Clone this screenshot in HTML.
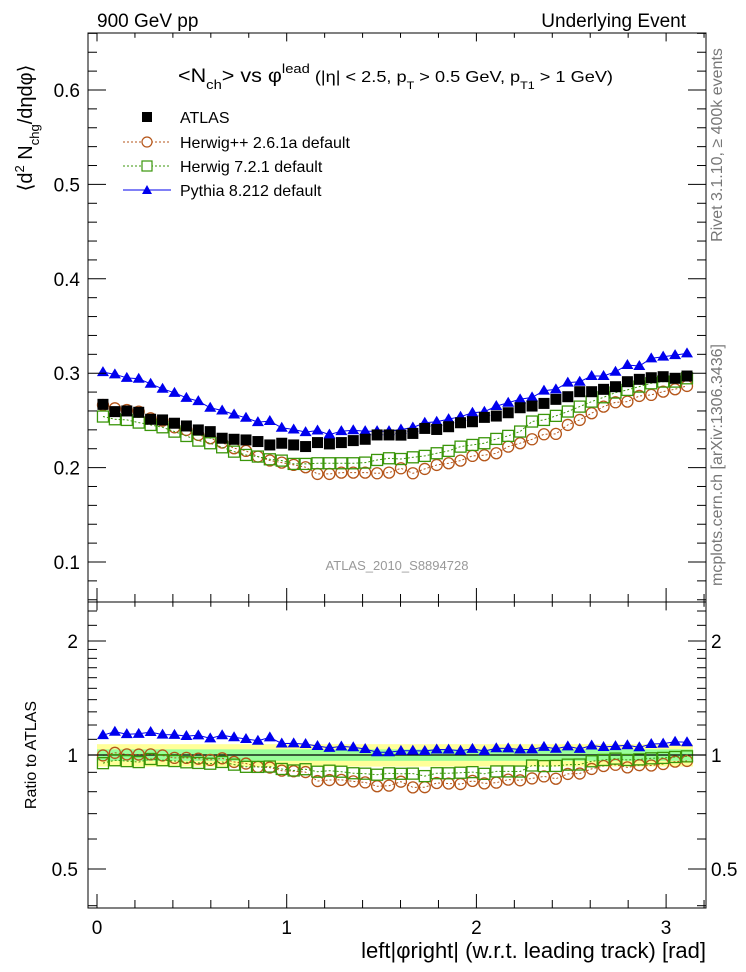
<!DOCTYPE html>
<html><head><meta charset="utf-8">
<style>
html,body{margin:0;padding:0;background:#fff;}
svg{display:block;font-family:"Liberation Sans",sans-serif;}
</style></head>
<body>
<svg id="chart" width="746" height="972" viewBox="0 0 746 972" xmlns="http://www.w3.org/2000/svg">
<rect x="0" y="0" width="746" height="972" fill="#fff"/>
<g id="ratio-band"></g>
<g id="marks"></g>
<g id="axes"></g>
<text x="97" y="27" font-size="19">900 GeV pp</text>
<text x="686" y="27" font-size="19" text-anchor="end">Underlying Event</text>
<text x="178" y="82" font-size="19" textLength="435" lengthAdjust="spacingAndGlyphs">&lt;N<tspan font-size="13" dy="7">ch</tspan><tspan dy="-7">&gt; vs φ</tspan><tspan font-size="13" dy="-9">lead</tspan><tspan font-size="16" dy="9"> (|η| &lt; 2.5, p</tspan><tspan font-size="11" dy="7">T</tspan><tspan font-size="16" dy="-7"> &gt; 0.5 GeV, p</tspan><tspan font-size="11" dy="7">T1</tspan><tspan font-size="16" dy="-7"> &gt; 1 GeV)</tspan></text>
<text transform="translate(32,128) rotate(-90)" font-size="20" text-anchor="middle">⟨d<tspan font-size="13" dy="-8">2</tspan><tspan dy="8"> N</tspan><tspan font-size="13" dy="7">chg</tspan><tspan dy="-7">/dηdφ⟩</tspan></text>
<text transform="translate(722,145) rotate(-90)" font-size="16" fill="#777" text-anchor="middle">Rivet 3.1.10, ≥ 400k events</text>
<text transform="translate(722,465) rotate(-90)" font-size="16" fill="#777" text-anchor="middle">mcplots.cern.ch [arXiv:1306.3436]</text>
<text x="397" y="570" font-size="13" fill="#999" text-anchor="middle">ATLAS_2010_S8894728</text>
<text transform="translate(36,755) rotate(-90)" font-size="16" text-anchor="middle">Ratio to ATLAS</text>
<text x="706" y="958" font-size="22" text-anchor="end">left|φright| (w.r.t. leading track) [rad]</text>
<g id="legend"></g>
</svg>
<script>
const atlas=[.2670,.2593,.2600,.2586,.2512,.2505,.2470,.2441,.2399,.2381,.2311,.2300,.2293,.2276,.2240,.2258,.2240,.2223,.2265,.2251,.2265,.2286,.2300,.2346,.2346,.2344,.2362,.2415,.2404,.2433,.2475,.2486,.2532,.2546,.2581,.2634,.2652,.2680,.2723,.2751,.2804,.2804,.2829,.2857,.2910,.2935,.2952,.2963,.2946,.2970];
const herwigpp=[.2663,.2628,.2610,.2593,.2522,.2498,.2427,.2399,.2346,.2311,.2265,.2205,.2177,.2117,.2075,.2053,.2029,.2004,.1933,.1933,.1947,.1947,.1947,.1940,.1947,.1993,.1940,.1986,.2028,.2046,.2074,.2124,.2131,.2152,.2222,.2258,.2300,.2353,.2357,.2452,.2505,.2576,.2646,.2692,.2699,.2759,.2770,.2805,.2830,.2865];
const herwig7=[.2541,.2512,.2505,.2477,.2452,.2427,.2381,.2335,.2286,.2258,.2215,.2169,.2134,.2117,.2088,.2074,.2039,.2039,.2046,.2046,.2046,.2046,.2053,.2081,.2099,.2091,.2109,.2124,.2152,.2177,.2222,.2240,.2258,.2304,.2336,.2382,.2488,.2505,.2548,.2594,.2646,.2699,.2745,.2795,.2823,.2858,.2893,.2911,.2911,.2946];
const pythia=[.3012,.2987,.2951,.2941,.2888,.2835,.2792,.2739,.2704,.2634,.2605,.2563,.2528,.2482,.2493,.2422,.2404,.2376,.2393,.2350,.2386,.2396,.2386,.2386,.2386,.2404,.2425,.2475,.2486,.2514,.2539,.2581,.2592,.2652,.2687,.2723,.2744,.2815,.2829,.2900,.2910,.2970,.2970,.3016,.3087,.3076,.3157,.3175,.3192,.3210];
const statErr=[0.035];
const totErr=[0.068];
const xTicks=[0,1,2,3];
const yTicks=[0.1,0.2,0.3,0.4,0.5,0.6];
const rTicks=[0.5,1,2];
const legendLabels=["ATLAS","Herwig++ 2.6.1a default","Herwig 7.2.1 default","Pythia 8.212 default"];

const NS="http://www.w3.org/2000/svg";
const L=88,R=706,T=33,M=602,B=908;
const X=v=>97+v*189.7;
const Y=v=>90+(0.6-v)*944;
const YR=r=>755-114*Math.log2(r);
function mk(tag,attrs,parent){const e=document.createElementNS(NS,tag);for(const k in attrs)e.setAttribute(k,attrs[k]);parent.appendChild(e);return e;}
const n=atlas.length, bw=Math.PI/n;
const phi=i=>(i+0.5)*bw;
const marks=document.getElementById('marks'), axes=document.getElementById('axes'), band=document.getElementById('ratio-band');
const cBrown="#b5561a", cGreen="#3a960a", cBlue="#0000ee";

const yb=mk('rect',{x:X(0),y:YR(1+totErr[0]),width:X(Math.PI)-X(0),height:YR(1-totErr[0])-YR(1+totErr[0]),fill:"#ffff99"},band);


const gb=mk('rect',{x:X(0),y:YR(1+statErr[0]),width:X(Math.PI)-X(0),height:YR(1-statErr[0])-YR(1+statErr[0]),fill:"#99ff99"},band);


const one=mk('line',{x1:L,x2:R,y1:YR(1),y2:YR(1),stroke:"#000","stroke-width":1.2},band);



function drawSeries(vals,kind,ratio,name){
  const g=mk('g',{},marks);
  
  
  const yf=i=>ratio?YR(vals[i]/atlas[i]):Y(vals[i]);
  if(kind!=='sq'){
    let d="";for(let i=0;i<n;i++)d+=(i?"L":"M")+X(phi(i)).toFixed(1)+" "+yf(i).toFixed(1);
    const col=kind==='circ'?cBrown:kind==='osq'?cGreen:cBlue;
    const p=mk('path',{d:d,fill:"none",stroke:col,"stroke-width":1,"stroke-dasharray":kind==='tri'?"none":"2 2"},g);
    
    
  }
  for(let i=0;i<n;i++){
    const x=X(phi(i)),y=yf(i);let e;
    if(kind==='sq')e=mk('rect',{x:x-5.5,y:y-5.5,width:11,height:11,fill:"#000"},g);
    else if(kind==='circ')e=mk('circle',{cx:x,cy:y,r:5.5,fill:"none",stroke:cBrown,"stroke-width":1.3},g);
    else if(kind==='osq')e=mk('rect',{x:x-5.5,y:y-5.5,width:11,height:11,fill:"none",stroke:cGreen,"stroke-width":1.3},g);
    else e=mk('path',{d:`M${x} ${y-6}L${x+6} ${y+4}L${x-6} ${y+4}Z`,fill:cBlue},g);
    
    
  }
}
drawSeries(herwigpp,'circ',false,'herwigpp-series');
drawSeries(herwig7,'osq',false,'herwig7-series');
drawSeries(pythia,'tri',false,'pythia-series');
drawSeries(atlas,'sq',false,'atlas-series');
drawSeries(herwigpp,'circ',true,'herwigpp-ratio');
drawSeries(herwig7,'osq',true,'herwig7-ratio');
drawSeries(pythia,'tri',true,'pythia-ratio');

const f1=mk('rect',{x:L,y:T,width:R-L,height:M-T,fill:"none",stroke:"#000","stroke-width":1},axes);


const f2=mk('rect',{x:L,y:M,width:R-L,height:B-M,fill:"none",stroke:"#000","stroke-width":1},axes);


function tick(x1,y1,x2,y2){const t=mk('line',{x1,y1,x2,y2,stroke:"#000","stroke-width":1},axes);

}
for(let k=0;k<=32;k++){const v=k*0.1;const x=X(v);const maj=k%10===0;const mid=k%2===0;
  const len=maj?14:(mid?8:0); if(!len)continue;
  tick(x,M,x,M-len);tick(x,T,x,T+len*0.6);tick(x,B,x,B-len);tick(x,M,x,M+len*0.6);}
xTicks.forEach(v=>{const t=mk('text',{x:X(v),y:934,"font-size":19,"text-anchor":"middle"},axes);t.textContent=v;

});
for(let k=3;k<=33;k++){const v=k*0.02;const y=Y(v);if(y<T||y>M)continue;const maj=k%5===0;const len=maj?18:9;
  tick(L,y,L+len,y);tick(R,y,R-len,y);}
yTicks.forEach(v=>{const t=mk('text',{x:80,y:Y(v)+7,"font-size":19,"text-anchor":"end"},axes);t.textContent=v.toFixed(1);

});
[0.4,0.5,0.6,0.7,0.8,0.9,1,1.1,1.2,1.3,1.4,1.5,1.6,1.7,1.8,1.9,2,2.2,2.4].forEach(r=>{const y=YR(r);if(y<M||y>B)return;
  const maj=rTicks.includes(r);const len=maj?18:9;tick(L,y,L+len,y);tick(R,y,R-len,y);});
rTicks.forEach(r=>{[[78,'end'],[711,'start']].forEach(([x,a])=>{const t=mk('text',{x:x,y:YR(r)+7,"font-size":19,"text-anchor":a},axes);t.textContent=r;

});});

const lg=document.getElementById('legend');
const rows=[117,142,166,190];
legendLabels.forEach((lab,i)=>{
  const y=rows[i],x=147;
  const g=mk('g',{},lg);
  
  
  if(i===0)mk('rect',{x:x-5,y:y-5,width:10,height:10,fill:"#000"},g);
  else{const col=[null,cBrown,cGreen,cBlue][i];
    mk('line',{x1:123,x2:171,y1:y,y2:y,stroke:col,"stroke-width":1,"stroke-dasharray":i===3?"none":"2 2"},g);
    if(i===1)mk('circle',{cx:x,cy:y,r:5,fill:"#fff",stroke:col,"stroke-width":1.2},g);
    if(i===2)mk('rect',{x:x-5,y:y-5,width:10,height:10,fill:"#fff",stroke:col,"stroke-width":1.2},g);
    if(i===3)mk('path',{d:`M${x} ${y-5}L${x+5} ${y+4}L${x-5} ${y+4}Z`,fill:col},g);}
  const t=mk('text',{x:180,y:y+6,"font-size":16},g);t.textContent=lab;
});
</script>
</body></html>
